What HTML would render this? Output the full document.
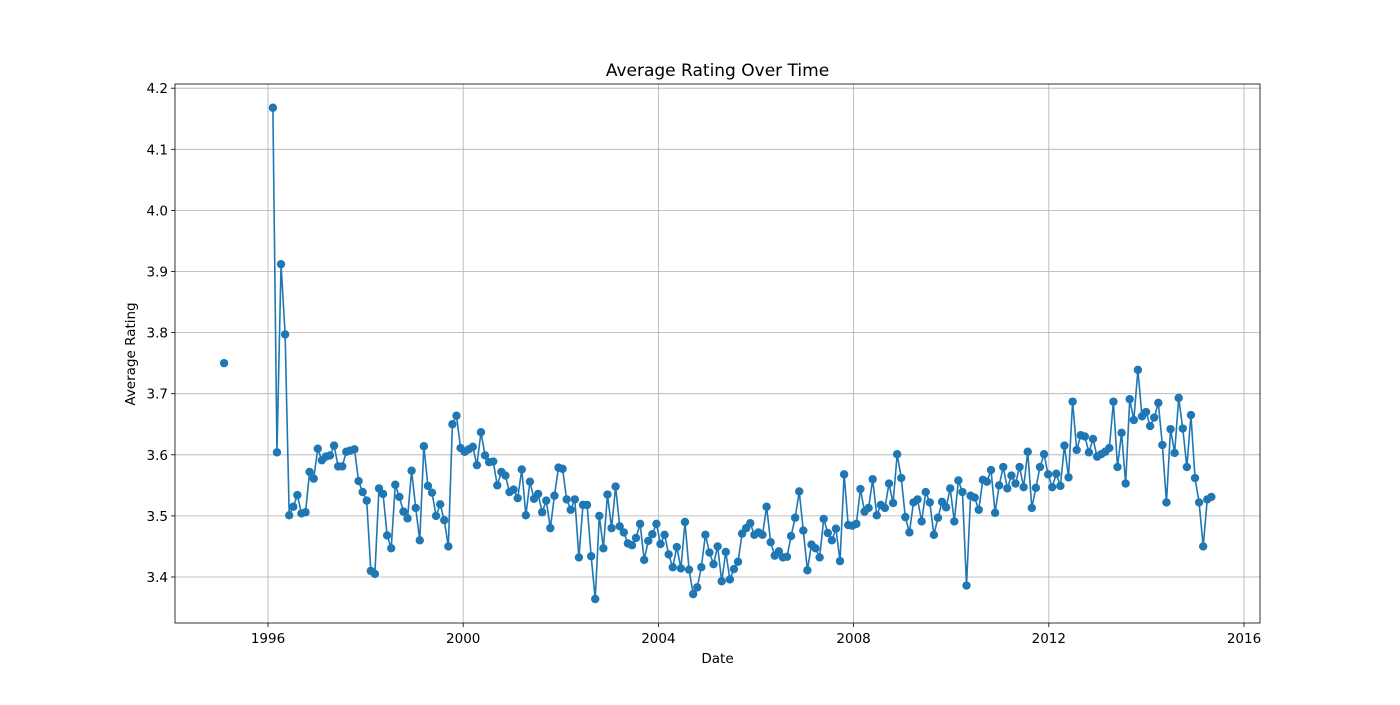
<!DOCTYPE html>
<html><head><meta charset="utf-8"><style>
body{margin:0;background:#fff;width:1400px;height:700px;overflow:hidden}
svg text{font-family:"DejaVu Sans","Liberation Sans",sans-serif;fill:#000}
</style></head><body>
<svg id="chart" width="1400" height="700"></svg>
<script>
const earlyDates=[1995.1];
const earlyValues=[3.75];
const startYear=1996.1;
const monthsPerYear=11.96;
const values=[4.168,3.604,3.912,3.797,
3.501,3.515,3.534,3.504,3.506,3.572,3.561,3.610,3.591,3.597,3.599,3.615,3.581,3.581,3.605,3.607,3.609,3.557,3.539,3.525,3.410,3.405,3.545,3.536,3.468,3.447,3.551,3.531,3.507,3.496,3.574,3.513,3.460,3.614,3.549,3.538,3.500,3.519,3.493,3.450,3.650,3.664,3.611,3.605,
3.609,3.613,3.583,3.637,3.599,3.588,3.589,3.550,3.572,3.566,3.539,3.543,3.529,3.576,3.501,3.556,3.528,3.536,3.506,3.525,3.480,3.533,3.579,3.577,3.527,3.510,3.527,3.432,3.518,3.518,3.434,3.364,3.500,3.447,3.535,3.480,3.548,3.483,3.473,3.455,3.452,3.464,3.487,3.428,3.459,3.470,
3.487,3.454,3.469,3.437,3.416,3.449,3.414,3.490,3.412,3.372,3.383,3.416,3.469,3.440,3.421,3.450,3.393,3.441,3.396,3.413,3.425,3.471,3.480,3.488,3.469,3.473,3.469,3.515,3.457,3.435,3.442,3.432,3.433,3.467,3.497,3.540,3.476,3.411,3.453,3.447,3.432,3.495,3.472,3.460,3.479,3.426,3.568,
3.485,3.484,3.487,3.544,3.507,3.513,3.560,3.501,3.518,3.513,3.553,3.521,3.601,3.562,3.498,3.473,3.522,3.527,3.491,3.539,3.522,3.469,3.497,3.523,3.514,3.545,3.491,3.558,3.539,3.386,3.533,3.530,3.510,3.559,3.556,3.575,3.505,3.550,3.580,3.545,3.566,3.553,3.580,3.547,3.605,3.513,3.546,
3.580,3.601,3.568,3.547,3.569,3.549,3.615,3.563,3.687,3.608,3.632,3.630,3.604,3.626,3.597,3.601,3.605,3.611,3.687,3.580,3.636,3.553,3.691,3.657,3.739,3.663,3.670,3.647,3.661,3.685,3.616,3.522,3.642,3.603,3.693,3.643,3.580,3.665,3.562,3.522,3.450,3.527,3.531];
const yTicks=[3.4,3.5,3.6,3.7,3.8,3.9,4.0,4.1,4.2];
const xTicks=[1996,2000,2004,2008,2012,2016];

const NS="http://www.w3.org/2000/svg";
const svg=document.getElementById('chart');
const L=175,R=1260,T=84,B=623;
const xs=yr=>268+(yr-1996)*48.8;
const ys=v=>577-(v-3.4)*611;
function el(tag,attrs,parent){const e=document.createElementNS(NS,tag);for(const k in attrs)e.setAttribute(k,attrs[k]);(parent||svg).appendChild(e);return e;}
const grid=el('g',{});


yTicks.forEach(t=>{
  const y=ys(t);
  const g=el('line',{x1:L,x2:R,y1:y,y2:y,stroke:'#b0b0b0','stroke-width':0.8},grid);
  
  
  el('line',{x1:L-4,x2:L,y1:y,y2:y,stroke:'#000','stroke-width':0.8});
  const tx=el('text',{x:L-7,y:y+5,'text-anchor':'end','font-size':13.5});
  tx.textContent=t.toFixed(1);
  
  
});
xTicks.forEach(t=>{
  const x=xs(t);
  const g=el('line',{x1:x,x2:x,y1:T,y2:B,stroke:'#b0b0b0','stroke-width':0.8},grid);
  
  
  el('line',{x1:x,x2:x,y1:B,y2:B+4,stroke:'#000','stroke-width':0.8});
  const tx=el('text',{x:x,y:B+20,'text-anchor':'middle','font-size':13.5});
  tx.textContent=t;
  
  
});
const frame=el('rect',{x:L,y:T,width:R-L,height:B-T,fill:'none',stroke:'#000','stroke-width':0.8});


const early=earlyDates.map((d,i)=>[xs(d),ys(earlyValues[i])]);
const pts=values.map((v,i)=>[xs(startYear+i/monthsPerYear),ys(v)]);
const line=el('polyline',{points:pts.map(p=>p.join(',')).join(' '),fill:'none',stroke:'#1f77b4','stroke-width':1.6,'stroke-linejoin':'round'});


early.concat(pts).forEach(p=>{
  const c=el('circle',{cx:p[0],cy:p[1],r:4.2,fill:'#1f77b4'});
  
  
});
const title=el('text',{x:(L+R)/2,y:76,'text-anchor':'middle','font-size':17});
title.textContent='Average Rating Over Time';


const xl=el('text',{x:(L+R)/2,y:663,'text-anchor':'middle','font-size':13.5});
xl.textContent='Date';


const yl=el('text',{x:0,y:0,'text-anchor':'middle','font-size':13.5,transform:'translate(135,354) rotate(-90)'});
yl.textContent='Average Rating';


</script>
</body></html>
